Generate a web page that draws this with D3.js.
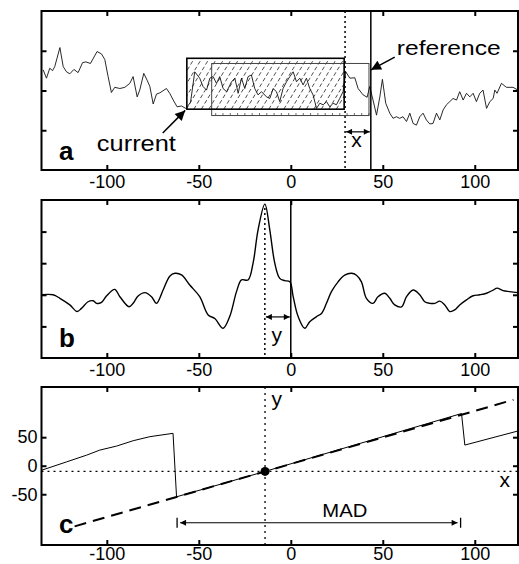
<!DOCTYPE html>
<html>
<head>
<meta charset="utf-8">
<script src="https://cdn.jsdelivr.net/npm/d3@7"></script>
<style>
  body { margin: 0; background: #fff; }
  svg text { font-family: "Liberation Sans", Arial, Helvetica, sans-serif; fill: #000; }
</style>
</head>
<body>
<svg id="chart" width="519" height="564"></svg>
<script>
// ---- data ----
const xTicks = [-100, -50, 0, 50, 100];
const yTicksA = [-1, 0, 1];
const yTicksB = [-1, 0, 1, 2];
const yTicksC = [-50, 0, 50];

// a: raw signal (x, value)
const signalA = [
  [-134.6,0.52],[-132.8,0.31],[-131.0,0.56],[-129.5,0.50],[-128.3,0.60],[-125.5,1.08],[-123.7,0.60],
  [-121.9,0.47],[-120.1,0.42],[-117.9,0.53],[-115.6,0.45],[-113.2,0.70],[-111.4,0.72],[-108.9,0.68],
  [-105.3,0.98],[-102.9,0.92],[-101.1,0.78],[-99.3,0.35],[-97.5,-0.05],[-95.7,0.08],[-92.9,0.05],
  [-90.2,0.08],[-87.5,0.18],[-85.7,0.35],[-83.5,-0.16],[-82.1,0.01],[-79.9,0.43],[-78.1,0.26],
  [-76.6,0.10],[-74.8,-0.34],[-73.0,-0.09],[-71.2,-0.06],[-67.6,0.05],[-65.8,-0.07],[-63.9,-0.24],
  [-61.8,-0.41],[-59.4,-0.39],[-57.1,-0.45],[-54.5,-0.30],[-52.2,0.47],[-49.5,0.31],[-47.7,0.10],
  [-45.8,0.01],[-44.0,0.31],[-42.2,0.35],[-40.4,0.18],[-38.6,0.35],[-36.8,0.05],[-34.9,-0.03],
  [-32.2,0.22],[-30.4,0.31],[-28.6,-0.07],[-26.8,0.31],[-25.0,0.05],[-23.2,0.35],[-21.4,0.39],
  [-19.6,0.05],[-17.8,-0.11],[-15.9,-0.03],[-13.2,-0.16],[-11.4,-0.20],[-9.6,0.05],[-7.8,-0.03],
  [-6.0,-0.28],[-4.2,0.05],[-2.3,0.22],[-0.5,0.35],[1.3,0.47],[3.1,0.22],[4.9,0.31],[6.7,0.14],
  [8.5,0.31],[10.3,0.05],[12.1,-0.11],[14.0,-0.45],[15.8,-0.32],[17.6,-0.36],[19.4,-0.28],
  [21.2,-0.41],[23.0,-0.32],[24.8,-0.36],[26.6,-0.20],[28.4,-0.03],[29.9,0.47],[32.1,0.31],
  [34.8,0.32],[36.6,0.05],[39.3,-0.11],[41.5,-0.17],[42.9,0.10],[44.7,-0.24],[46.6,-0.62],
  [48.4,-0.16],[49.8,0.28],[51.6,-0.32],[53.8,-0.57],[55.6,-0.70],[57.4,-0.66],[59.2,-0.70],
  [61.0,-0.66],[62.9,-0.78],[64.7,-0.57],[66.5,-0.83],[68.3,-0.87],[70.1,-0.66],[71.9,-0.57],
  [73.7,-0.74],[75.5,-0.84],[77.3,-0.83],[79.2,-0.57],[81.0,-0.74],[82.8,-0.49],[84.6,-0.36],
  [86.4,-0.28],[88.2,-0.20],[90.1,-0.24],[91.8,-0.03],[93.7,-0.24],[95.5,-0.07],[97.3,-0.16],
  [99.1,-0.07],[100.9,-0.28],[102.7,-0.07],[104.5,0.01],[106.4,-0.45],[108.2,-0.28],[110.0,-0.20],
  [110.9,0.01],[112.1,-0.07],[114.5,0.18],[117.2,0.08],[120.8,0.08],[123.5,0.01]
];

// windows in a: [x0, x1, yLow, yHigh]
const currentWin = [-56.5, 29, -0.47, 0.81];
const referenceWin = [-43, 42.5, -0.63, 0.68];
const currentEdge = 29.5;
const referenceEdge = 43.5;

// b: correlation (lag, value)
const corrB = [
  [-135.5,0.0],[-129.2,0.0],[-125.5,-0.11],[-120.1,-0.32],[-116.1,-0.53],[-113.8,-0.43],[-110.2,-0.22],
  [-107.4,-0.19],[-105.6,-0.27],[-102.9,-0.24],[-100.2,-0.04],[-95.7,0.17],[-92.9,-0.06],[-87.9,-0.38],
  [-85.7,-0.27],[-83.0,-0.04],[-79.3,0.07],[-75.7,-0.06],[-73.0,-0.27],[-69.4,0.15],[-65.8,0.59],
  [-63.0,0.68],[-59.4,0.63],[-54.9,0.31],[-49.5,-0.06],[-44.9,-0.64],[-41.3,-0.75],[-36.8,-1.06],
  [-33.2,-0.69],[-29.5,0.10],[-26.8,0.47],[-23.2,0.47],[-20.5,1.00],[-17.8,2.05],[-14.1,2.87],
  [-11.4,2.05],[-8.7,1.00],[-6.0,0.52],[-3.3,0.45],[-0.5,0.41],[1.3,-0.06],[4.0,-0.69],[7.6,-1.06],
  [10.3,-0.85],[14.0,-0.69],[16.7,-0.59],[19.4,-0.27],[22.1,0.10],[25.7,0.41],[29.3,0.62],[33.0,0.68],
  [35.7,0.62],[38.4,0.41],[41.1,-0.11],[44.7,-0.27],[47.4,-0.06],[51.1,0.05],[53.8,-0.11],[56.5,-0.32],
  [60.2,-0.38],[62.9,-0.06],[66.5,0.15],[70.1,0.0],[72.8,-0.22],[75.5,-0.27],[78.3,-0.27],[81.0,-0.20],
  [83.7,-0.32],[86.4,-0.53],[89.1,-0.48],[91.8,-0.32],[95.5,-0.16],[99.1,-0.03],[102.7,0.0],
  [106.4,0.05],[110.0,0.15],[112.1,0.21],[115.4,0.13],[119.0,0.10],[123.5,0.07]
];
const peakLag = -14.1;
const peakValue = 2.87;

// c: wrapped phase and its unwrapped fit
const sawC = [
  [-135.5,-8],[-121.9,6.7],[-111.0,18.5],[-103.8,27.4],[-94.7,34.4],[-85.7,43.8],[-76.6,50.9],
  [-64.0,56.8],[-62.1,-54.5],[-14,-10],[92.8,91.5],[94.6,36.2],[123.5,60.9]
];
const fitC = [[-117.5,-106.3],[121,115.6]];
const matchC = [-14, -10];
const madRange = [-61.8, 92.3];

// ---- layout ----
const svg = d3.select("#chart");
const L = 41.5, R = 518;
const x = d3.scaleLinear().domain([-135.5, 123.5]).range([L, R]);
const yA = d3.scaleLinear().domain([-2, 2]).range([170, 11]);
const yB = d3.scaleLinear().domain([-2, 3]).range([358, 200]);
const yC = d3.scaleLinear().domain([-139, 138]).range([545, 387]);

const defs = svg.append("defs");
function marker(id, w, h) {
  defs.append("marker")
    .attr("id", id)
    .attr("viewBox", "0 0 10 10")
    .attr("refX", 10).attr("refY", 5)
    .attr("markerWidth", w).attr("markerHeight", h)
    .attr("markerUnits", "userSpaceOnUse")
    .attr("orient", "auto-start-reverse")
    .append("path").attr("d", "M0,0L10,5L0,10Z").attr("fill", "#000");
}
marker("head", 12, 10);
marker("headS", 7, 6);

function clip(id, y) {
  defs.append("clipPath").attr("id", id)
    .append("rect")
    .attr("x", L).attr("y", y.range()[1])
    .attr("width", R - L).attr("height", y.range()[0] - y.range()[1]);
}
clip("clipA", yA); clip("clipB", yB); clip("clipC", yC);

function frame(y, yTicks, yLabels, pad) {
  const g = svg.append("g");
  const bot = y.range()[0], top = y.range()[1];
  g.append("g").attr("transform", `translate(0,${bot})`)
    .call(d3.axisBottom(x).tickValues(xTicks).tickSize(-5).tickPadding(pad).tickFormat(d => String(d)));
  g.append("g").attr("transform", `translate(0,${top})`)
    .call(d3.axisTop(x).tickValues(xTicks).tickSize(-5).tickFormat(""));
  g.append("g").attr("transform", `translate(${L},0)`)
    .call(d3.axisLeft(y).tickValues(yTicks).tickSize(-5).tickPadding(4)
      .tickFormat(yLabels ? (d => String(d)) : ""));
  g.append("g").attr("transform", `translate(${R},0)`)
    .call(d3.axisRight(y).tickValues(yTicks).tickSize(-5).tickFormat(""));
  g.selectAll(".domain").remove();
  g.selectAll(".tick line").attr("stroke", "#000").attr("stroke-width", 2);
  g.selectAll(".tick text").attr("font-size", 18).attr("font-family", "Liberation Sans, Arial, sans-serif").attr("fill", "#000");
  g.append("rect")
    .attr("x", L).attr("y", top).attr("width", R - L).attr("height", bot - top)
    .attr("fill", "none").attr("stroke", "#000").attr("stroke-width", 2);
  return g;
}

function label(g, txt, px, py, opts = {}) {
  const t = g.append("text").attr("x", px).attr("y", py).text(txt)
    .attr("font-size", opts.size || 20)
    .attr("font-weight", opts.bold ? "bold" : "normal")
    .attr("text-anchor", opts.anchor || "start");
  if (opts.len) t.attr("textLength", opts.len).attr("lengthAdjust", "spacingAndGlyphs");
  return t;
}

// ---- panel a ----
const gA = svg.append("g");
const plotA = gA.append("g").attr("clip-path", "url(#clipA)");

// current window with hatching
const cx0 = x(currentWin[0]), cx1 = x(currentWin[1]);
const cy0 = yA(currentWin[3]), cy1 = yA(currentWin[2]);
defs.append("clipPath").attr("id", "clipHatch")
  .append("rect").attr("x", cx0).attr("y", cy0).attr("width", cx1 - cx0).attr("height", cy1 - cy0);
const hh = cy1 - cy0, lean = hh * 0.6;
const hatchG = plotA.append("g").attr("clip-path", "url(#clipHatch)");
hatchG.selectAll("line")
  .data(d3.range(cx0 - lean, cx1 + 8, 7.5))
  .join("line")
  .attr("x1", d => d).attr("y1", cy1)
  .attr("x2", d => d + lean).attr("y2", cy0)
  .attr("stroke", "#222").attr("stroke-width", 0.8)
  .attr("stroke-dasharray", "4,2.5");

// reference window
const rx0 = x(referenceWin[0]), rx1 = x(referenceWin[1]);
plotA.append("rect")
  .attr("x", rx0).attr("y", yA(referenceWin[3]))
  .attr("width", rx1 - rx0).attr("height", yA(referenceWin[2]) - yA(referenceWin[3]))
  .attr("fill", "none").attr("stroke", "#444").attr("stroke-width", 1);
plotA.append("g").selectAll("line")
  .data(d3.range(rx0 + 4, rx1, 7.3))
  .join("line")
  .attr("x1", d => d).attr("x2", d => d)
  .attr("y1", yA(referenceWin[2])).attr("y2", yA(referenceWin[2]) - 2.5)
  .attr("stroke", "#444").attr("stroke-width", 0.8);

plotA.append("path")
  .datum(signalA)
  .attr("d", d3.line().x(d => x(d[0])).y(d => yA(d[1])))
  .attr("fill", "none").attr("stroke", "#111").attr("stroke-width", 0.9);

plotA.append("rect")
  .attr("x", cx0).attr("y", cy0).attr("width", cx1 - cx0).attr("height", cy1 - cy0)
  .attr("fill", "none").attr("stroke", "#000").attr("stroke-width", 1.6);

plotA.append("line")
  .attr("x1", x(currentEdge)).attr("x2", x(currentEdge))
  .attr("y1", yA(2)).attr("y2", yA(-2))
  .attr("stroke", "#000").attr("stroke-width", 1.5).attr("stroke-dasharray", "2,3");
plotA.append("line")
  .attr("x1", x(referenceEdge)).attr("x2", x(referenceEdge))
  .attr("y1", yA(2)).attr("y2", yA(-2))
  .attr("stroke", "#000").attr("stroke-width", 1.5);

// x shift arrow
gA.append("line")
  .attr("x1", x(currentEdge) + 1).attr("x2", x(referenceEdge) - 1)
  .attr("y1", yA(-1.04)).attr("y2", yA(-1.04))
  .attr("stroke", "#000").attr("stroke-width", 1.2)
  .attr("marker-start", "url(#headS)").attr("marker-end", "url(#headS)");
label(gA, "x", x(35.7), yA(-1.41), { size: 21, anchor: "middle" });

// callouts
gA.append("line")
  .attr("x1", x(-69.6)).attr("y1", yA(-1.07))
  .attr("x2", x(-57.4)).attr("y2", yA(-0.5))
  .attr("stroke", "#000").attr("stroke-width", 1.5).attr("marker-end", "url(#head)");
label(gA, "current", x(-105.4), yA(-1.52), { size: 22, len: 79 });
gA.append("line")
  .attr("x1", x(56.5)).attr("y1", yA(0.84))
  .attr("x2", x(43.6)).attr("y2", yA(0.52))
  .attr("stroke", "#000").attr("stroke-width", 1.5).attr("marker-end", "url(#head)");
label(gA, "reference", x(57.6), yA(0.89), { size: 21, len: 104 });

frame(yA, yTicksA, false, 5);
label(gA, "a", x(-126), yA(-1.75), { size: 26, bold: true });

// ---- panel b ----
const gB = svg.append("g");
const plotB = gB.append("g").attr("clip-path", "url(#clipB)");
plotB.append("line")
  .attr("x1", x(peakLag)).attr("x2", x(peakLag))
  .attr("y1", yB(peakValue) + 4).attr("y2", yB(-2))
  .attr("stroke", "#000").attr("stroke-width", 1.5).attr("stroke-dasharray", "2,3");
plotB.append("line")
  .attr("x1", x(0)).attr("x2", x(0))
  .attr("y1", yB(3)).attr("y2", yB(-2))
  .attr("stroke", "#000").attr("stroke-width", 1.5);
plotB.append("path")
  .datum(corrB)
  .attr("d", d3.line().x(d => x(d[0])).y(d => yB(d[1])).curve(d3.curveCatmullRom.alpha(0.5)))
  .attr("fill", "none").attr("stroke", "#000").attr("stroke-width", 1.4);
gB.append("line")
  .attr("x1", x(peakLag) + 1).attr("x2", x(0) - 1)
  .attr("y1", yB(-0.7)).attr("y2", yB(-0.7))
  .attr("stroke", "#000").attr("stroke-width", 1.2)
  .attr("marker-start", "url(#headS)").attr("marker-end", "url(#headS)");
label(gB, "y", x(-7.6), yB(-1.49), { size: 21, anchor: "middle" });
frame(yB, yTicksB, false, 5);
label(gB, "b", x(-126), yB(-1.65), { size: 26, bold: true });

// ---- panel c ----
const gC = svg.append("g");
const plotC = gC.append("g").attr("clip-path", "url(#clipC)");
plotC.append("line")
  .attr("x1", L).attr("x2", R)
  .attr("y1", yC(matchC[1])).attr("y2", yC(matchC[1]))
  .attr("stroke", "#000").attr("stroke-width", 1.3).attr("stroke-dasharray", "2,4");
plotC.append("line")
  .attr("x1", x(matchC[0])).attr("x2", x(matchC[0]))
  .attr("y1", yC(138)).attr("y2", yC(-139))
  .attr("stroke", "#000").attr("stroke-width", 1.3).attr("stroke-dasharray", "2,4");
plotC.append("path")
  .datum(fitC)
  .attr("d", d3.line().x(d => x(d[0])).y(d => yC(d[1])))
  .attr("fill", "none").attr("stroke", "#000").attr("stroke-width", 2)
  .attr("stroke-dasharray", "12,7");
plotC.append("path")
  .datum(sawC)
  .attr("d", d3.line().x(d => x(d[0])).y(d => yC(d[1])))
  .attr("fill", "none").attr("stroke", "#000").attr("stroke-width", 1);
plotC.append("circle")
  .attr("cx", x(matchC[0])).attr("cy", yC(matchC[1])).attr("r", 4.5).attr("fill", "#000");

// MAD span
const madY = yC(-100);
gC.append("line")
  .attr("x1", x(madRange[0]) + 3).attr("x2", x(madRange[1]) - 3)
  .attr("y1", madY).attr("y2", madY)
  .attr("stroke", "#000").attr("stroke-width", 1.2)
  .attr("marker-start", "url(#headS)").attr("marker-end", "url(#headS)");
gC.selectAll("line.bar")
  .data(madRange)
  .join("line").attr("class", "bar")
  .attr("x1", d => x(d)).attr("x2", d => x(d))
  .attr("y1", madY - 5).attr("y2", madY + 5)
  .attr("stroke", "#000").attr("stroke-width", 1.3);
label(gC, "MAD", x(29.4), yC(-90), { size: 19, anchor: "middle", len: 45 });
label(gC, "x", x(116.3), yC(-37.3), { size: 21, anchor: "middle" });
label(gC, "y", x(-7.6), yC(104.7), { size: 21, anchor: "middle" });

frame(yC, yTicksC, true, 2);
label(gC, "c", x(-126), yC(-118), { size: 26, bold: true });
</script>
</body>
</html>
